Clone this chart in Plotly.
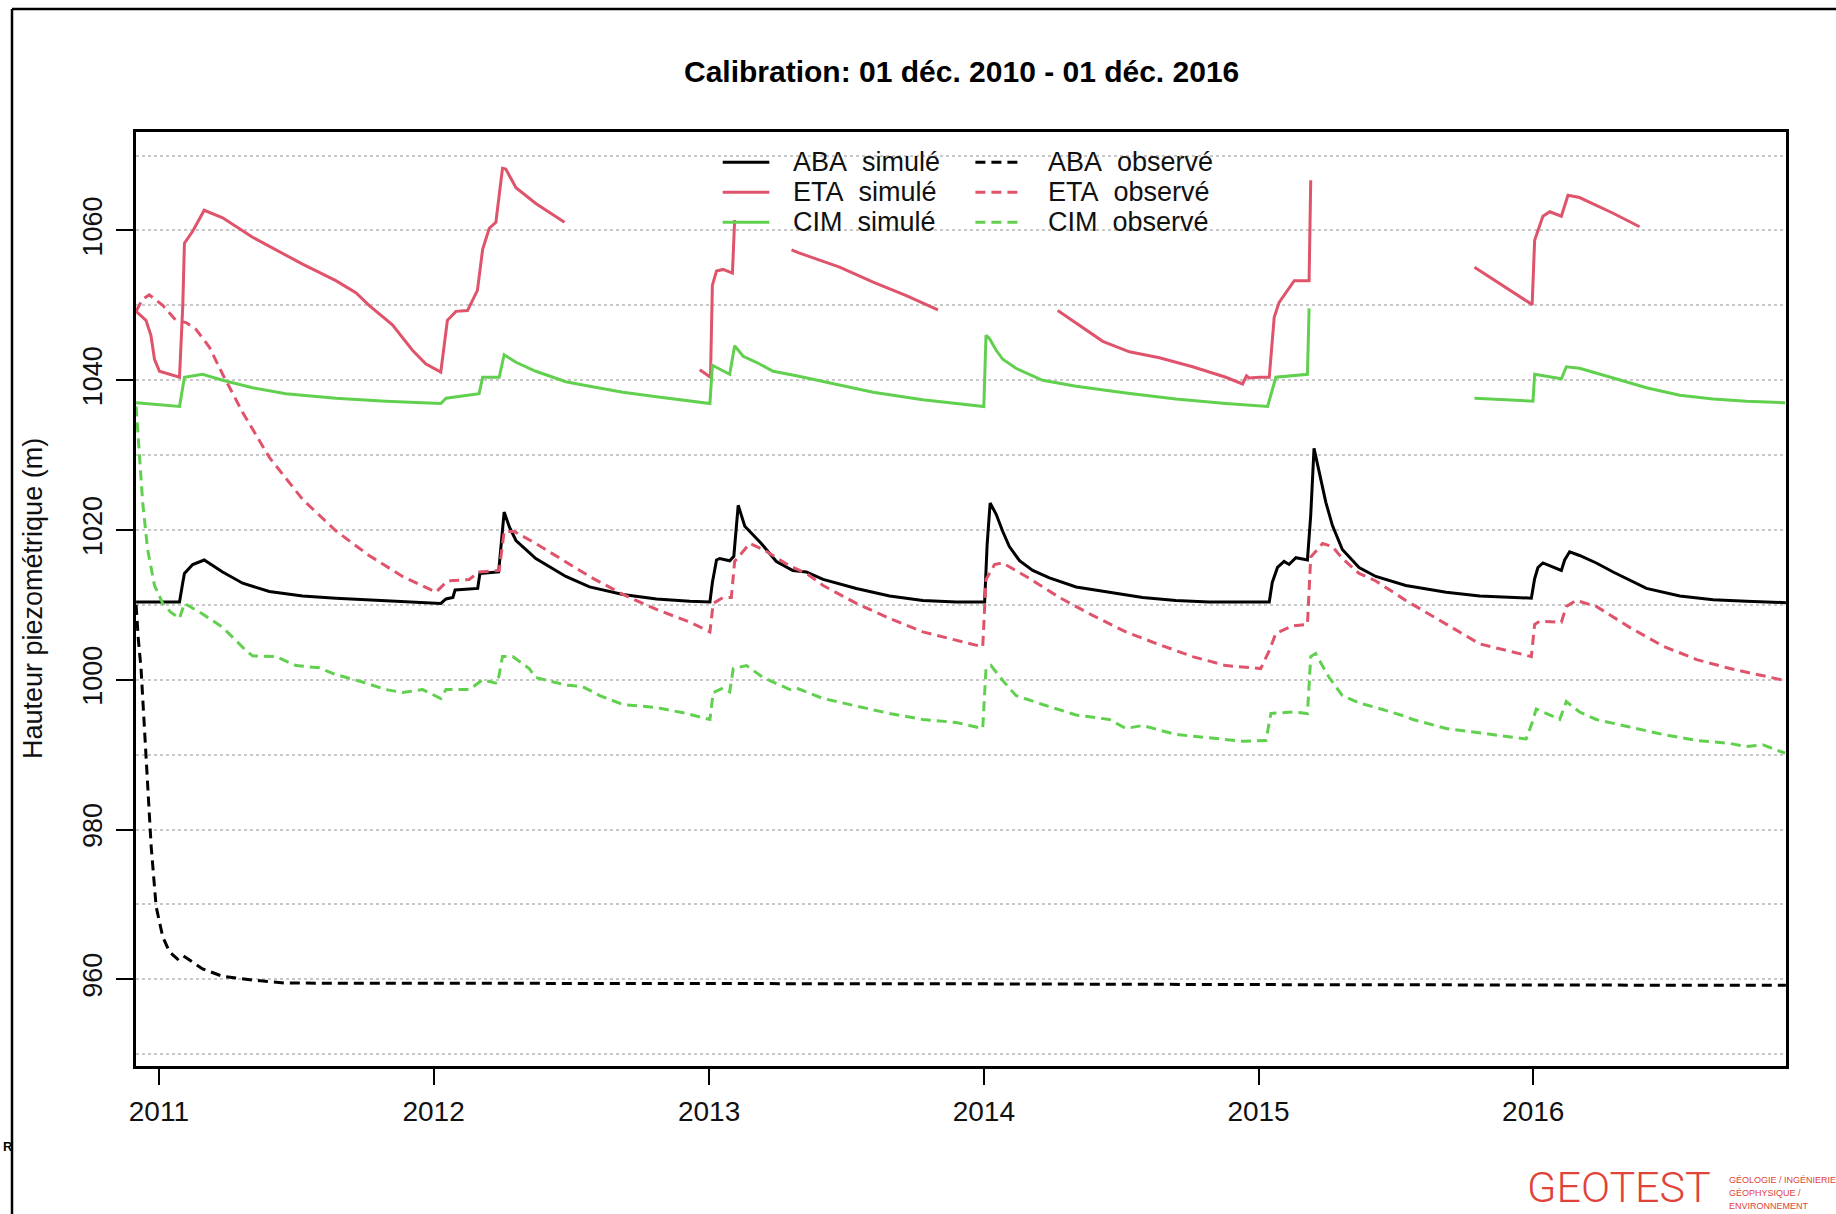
import math
import datetime as dt
import plotly.graph_objects as go

# ---------------- data (decimal years, metres) ----------------
aba_sim_t = [2010.917, 2011.075, 2011.087, 2011.093, 2011.123, 2011.165, 2011.232, 2011.305, 2011.402,
             2011.523, 2011.644, 2011.765, 2011.887, 2012.008, 2012.026, 2012.045, 2012.07, 2012.078,
             2012.16, 2012.168, 2012.236, 2012.256, 2012.275, 2012.299, 2012.371, 2012.48, 2012.566,
             2012.687, 2012.809, 2012.93, 2013.003, 2013.012, 2013.027, 2013.039, 2013.075, 2013.09,
             2013.106, 2013.13, 2013.16, 2013.19, 2013.245, 2013.305, 2013.354, 2013.415, 2013.536,
             2013.657, 2013.778, 2013.9, 2014.003, 2014.012, 2014.023, 2014.045, 2014.069, 2014.093,
             2014.13, 2014.178, 2014.239, 2014.336, 2014.457, 2014.578, 2014.699, 2014.82, 2015.039,
             2015.05, 2015.069, 2015.093, 2015.111, 2015.136, 2015.178, 2015.19, 2015.202, 2015.22,
             2015.245, 2015.269, 2015.305, 2015.366, 2015.427, 2015.536, 2015.683, 2015.805, 2015.993,
             2016.005, 2016.017, 2016.035, 2016.102, 2016.114, 2016.132, 2016.168, 2016.229, 2016.29,
             2016.411, 2016.532, 2016.653, 2016.774, 2016.917]
aba_sim_v = [1010.4, 1010.4, 1013.0, 1014.2, 1015.4, 1016.0, 1014.4, 1012.9, 1011.8,
             1011.2, 1010.9, 1010.7, 1010.5, 1010.3, 1010.2, 1010.8, 1011.0, 1012.0,
             1012.2, 1014.2, 1014.4, 1022.4, 1020.4, 1018.6, 1016.2, 1013.8, 1012.4,
             1011.4, 1010.8, 1010.5, 1010.4, 1013.0, 1016.0, 1016.2, 1015.9, 1016.5,
             1023.3, 1020.5, 1019.4, 1018.2, 1015.8, 1014.6, 1014.4, 1013.4, 1012.2,
             1011.2, 1010.6, 1010.4, 1010.4, 1018.0, 1023.6, 1022.1, 1019.8, 1017.8,
             1015.9, 1014.6, 1013.6, 1012.4, 1011.7, 1011.0, 1010.6, 1010.4, 1010.4,
             1013.0, 1015.0, 1015.8, 1015.4, 1016.3, 1016.0, 1022.0, 1030.9, 1027.7,
             1023.7, 1020.6, 1017.4, 1015.0, 1013.8, 1012.6, 1011.7, 1011.2, 1010.9,
             1013.5, 1015.0, 1015.6, 1014.6, 1016.0, 1017.1, 1016.6, 1015.6, 1014.4,
             1012.2, 1011.2, 1010.7, 1010.5, 1010.3]

aba_obs_t = [2010.917, 2010.925, 2010.935, 2010.947, 2010.959, 2010.972, 2010.99, 2011.014, 2011.038,
             2011.068, 2011.087, 2011.111, 2011.159, 2011.232, 2011.341, 2011.462, 2012.0, 2013.0,
             2014.0, 2015.0, 2016.0, 2016.917]
aba_obs_v = [1010.0, 1005.5, 1001.5, 993.6, 985.6, 977.7, 969.7, 965.7, 963.7,
             962.7, 963.2, 962.6, 961.4, 960.4, 959.9, 959.5, 959.5, 959.5,
             959.4, 959.3, 959.3, 959.2]

eta_sim_t = [2010.917, 2010.953, 2010.971, 2010.984, 2011.002, 2011.038, 2011.075, 2011.087, 2011.093,
             2011.123, 2011.165, 2011.232, 2011.341, 2011.523, 2011.644, 2011.717, 2011.765, 2011.85,
             2011.923, 2011.971, 2012.026, 2012.05, 2012.081, 2012.123, 2012.159, 2012.178, 2012.202,
             2012.226, 2012.25, 2012.262, 2012.299, 2012.371, 2012.475, 2012.7,
             2012.966, 2013.005, 2013.012, 2013.027, 2013.051, 2013.085, 2013.093, 2013.2,
             2013.3, 2013.327, 2013.475, 2013.597, 2013.718, 2013.833, 2014.0,
             2014.269, 2014.336, 2014.433, 2014.53, 2014.639, 2014.76, 2014.881, 2014.942, 2014.956,
             2014.966, 2015.002, 2015.039, 2015.057, 2015.075, 2015.1, 2015.13, 2015.184, 2015.19, 2015.5,
             2015.786, 2015.996, 2016.005, 2016.035, 2016.06, 2016.102, 2016.126, 2016.168, 2016.29,
             2016.386]
eta_sim_v = [1049.2, 1048.0, 1046.0, 1042.8, 1041.2, 1040.8, 1040.4, 1050.0, 1058.3,
             1059.9, 1062.7, 1061.7, 1059.1, 1055.5, 1053.3, 1051.7, 1050.0, 1047.4,
             1044.0, 1042.2, 1041.1, 1048.0, 1049.2, 1049.3, 1052.0, 1057.5, 1060.3,
             1061.1, 1068.3, 1068.2, 1065.7, 1063.6, 1061.1, None,
             1041.4, 1040.4, 1052.7, 1054.6, 1054.8, 1054.3, 1061.4, None,
             1057.4, 1057.0, 1055.1, 1053.1, 1051.3, 1049.4, None,
             1049.3, 1047.6, 1045.2, 1043.8, 1043.0, 1041.8, 1040.4, 1039.5, 1040.6,
             1040.3, 1040.4, 1040.4, 1048.4, 1050.4, 1051.7, 1053.3, 1053.3, 1066.7, None,
             1055.1, 1050.1, 1058.7, 1061.9, 1062.5, 1061.9, 1064.7, 1064.4, 1062.3,
             1060.5]

eta_obs_t = [2010.917, 2010.94, 2010.965, 2011.014, 2011.062, 2011.099, 2011.135, 2011.184, 2011.232,
             2011.305, 2011.402, 2011.523, 2011.644, 2011.765, 2011.887, 2012.008, 2012.05, 2012.129,
             2012.165, 2012.238, 2012.256, 2012.293, 2012.371, 2012.48, 2012.566, 2012.687, 2012.809,
             2012.93, 2013.003, 2013.015, 2013.051, 2013.081, 2013.093, 2013.148, 2013.197, 2013.294,
             2013.354, 2013.415, 2013.536, 2013.657, 2013.778, 2013.996, 2014.008, 2014.039, 2014.069,
             2014.154, 2014.275, 2014.396, 2014.517, 2014.639, 2014.76, 2014.881, 2015.008, 2015.039,
             2015.063, 2015.124, 2015.178, 2015.19, 2015.233, 2015.269, 2015.305, 2015.366, 2015.427,
             2015.536, 2015.683, 2015.805, 2015.993, 2016.005, 2016.023, 2016.102, 2016.12, 2016.156,
             2016.229, 2016.35, 2016.471, 2016.593, 2016.714, 2016.914]
eta_obs_v = [1049.2, 1050.8, 1051.4, 1050.0, 1048.0, 1047.7, 1046.8, 1044.4, 1040.8,
             1035.7, 1029.7, 1024.1, 1019.9, 1016.6, 1013.8, 1011.7, 1013.2, 1013.4,
             1014.4, 1014.6, 1019.8, 1019.8, 1018.2, 1015.8, 1013.8, 1011.4, 1009.4,
             1007.7, 1006.4, 1010.2, 1011.0, 1011.0, 1015.8, 1018.2, 1017.4, 1015.2,
             1014.2, 1012.6, 1010.2, 1008.2, 1006.4, 1004.4, 1013.4, 1015.4, 1015.6,
             1013.8, 1011.0, 1008.6, 1006.4, 1004.7, 1003.1, 1001.9, 1001.5, 1003.9,
             1006.2, 1007.2, 1007.4, 1016.4, 1018.2, 1017.8, 1016.2, 1014.2, 1013.2,
             1010.6, 1007.4, 1004.8, 1003.1, 1007.4, 1007.8, 1007.7, 1009.8, 1010.6,
             1009.8, 1007.0, 1004.5, 1002.7, 1001.5, 999.9]

cim_sim_t = [2010.917, 2011.075, 2011.093, 2011.159, 2011.232, 2011.341, 2011.462, 2011.644, 2011.826,
             2012.026, 2012.045, 2012.165, 2012.178, 2012.238, 2012.256, 2012.299, 2012.371, 2012.48,
             2012.566, 2012.687, 2012.809, 2013.003, 2013.012, 2013.075, 2013.093, 2013.124, 2013.172,
             2013.233, 2013.318, 2013.415, 2013.597, 2013.778, 2014.0, 2014.008, 2014.02, 2014.045,
             2014.069, 2014.117, 2014.214, 2014.336, 2014.517, 2014.699, 2014.881, 2015.033, 2015.063,
             2015.178, 2015.184, 2015.5,
             2015.786, 2015.999, 2016.005, 2016.102, 2016.12, 2016.168, 2016.29, 2016.411, 2016.532,
             2016.653, 2016.774, 2016.914]
cim_sim_v = [1037.0, 1036.5, 1040.4, 1040.8, 1040.0, 1039.0, 1038.2, 1037.6, 1037.2,
             1036.9, 1037.6, 1038.2, 1040.4, 1040.4, 1043.4, 1042.4, 1041.2, 1039.8,
             1039.2, 1038.4, 1037.8, 1036.9, 1042.0, 1040.8, 1044.6, 1043.2, 1042.4,
             1041.2, 1040.6, 1039.8, 1038.4, 1037.4, 1036.5, 1046.0, 1045.6, 1044.0,
             1042.8, 1041.6, 1040.0, 1039.2, 1038.3, 1037.5, 1036.9, 1036.5, 1040.4,
             1040.8, 1049.6, None,
             1037.6, 1037.2, 1040.8, 1040.2, 1041.8, 1041.6, 1040.3, 1039.0, 1038.0,
             1037.5, 1037.2, 1037.0]

cim_obs_t = [2010.917, 2010.929, 2010.941, 2010.959, 2010.984, 2011.014, 2011.044, 2011.075, 2011.093,
             2011.159, 2011.232, 2011.317, 2011.341, 2011.426, 2011.499, 2011.584, 2011.644, 2011.741,
             2011.826, 2011.887, 2011.96, 2012.026, 2012.045, 2012.129, 2012.178, 2012.232, 2012.25,
             2012.287, 2012.347, 2012.371, 2012.48, 2012.54, 2012.603, 2012.687, 2012.809, 2012.918,
             2013.003, 2013.015, 2013.051, 2013.075, 2013.088, 2013.136, 2013.197, 2013.294, 2013.318,
             2013.415, 2013.536, 2013.657, 2013.778, 2013.9, 2013.996, 2014.008, 2014.026, 2014.069,
             2014.117, 2014.214, 2014.336, 2014.457, 2014.517, 2014.578, 2014.699, 2014.82, 2014.942,
             2015.027, 2015.045, 2015.124, 2015.178, 2015.19, 2015.208, 2015.257, 2015.305, 2015.366,
             2015.427, 2015.536, 2015.562, 2015.683, 2015.805, 2015.974, 2015.996, 2016.011, 2016.096,
             2016.12, 2016.168, 2016.229, 2016.35, 2016.471, 2016.593, 2016.714, 2016.774, 2016.835,
             2016.914]
cim_obs_v = [1036.5, 1029.3, 1023.7, 1017.4, 1012.6, 1010.2, 1009.0, 1008.2, 1010.2,
             1008.8, 1007.0, 1003.9, 1003.2, 1003.1, 1001.9, 1001.6, 1000.7, 999.7,
             998.7, 998.3, 998.7, 997.5, 998.7, 998.7, 1000.0, 999.5, 1003.1,
             1003.1, 1001.5, 1000.3, 999.3, 999.1, 997.9, 996.7, 996.3, 995.5,
             994.7, 998.3, 998.9, 998.4, 1001.5, 1001.9, 1000.3, 998.7, 998.9,
             997.5, 996.5, 995.5, 994.7, 994.3, 993.5, 1001.5, 1001.9, 999.9,
             997.9, 996.7, 995.3, 994.7, 993.5, 993.9, 992.7, 992.3, 991.8,
             991.9, 995.5, 995.7, 995.5, 1003.1, 1003.5, 1000.3, 997.9, 996.9,
             996.3, 995.1, 994.7, 993.5, 992.9, 992.1, 994.3, 996.1, 994.7,
             997.1, 995.7, 994.7, 993.7, 992.7, 991.9, 991.5, 991.1, 991.3,
             990.2]

series_names = ["ABA  simulé", "ETA  simulé", "CIM  simulé", "ABA  observé", "ETA  observé", "CIM  observé"]
colors = {"ABA": "#000000", "ETA": "#DF536B", "CIM": "#61D04F"}
year_ticks = [2011, 2012, 2013, 2014, 2015, 2016]
y_tick_vals = [960, 980, 1000, 1020, 1040, 1060]


def to_date(y):
    yr = int(math.floor(y))
    start = dt.datetime(yr, 1, 1)
    days = (dt.datetime(yr + 1, 1, 1) - start).days
    return start + dt.timedelta(days=(y - yr) * days)


# ---------------- layout geometry (pixels) ----------------
W, H = 1836, 1214
PL, PR, PT, PB = 136, 1786, 132, 1066
PW, PH = PR - PL, PB - PT


def px(x):
    return (x - PL) / PW


def py(y):
    return (PB - y) / PH


FONT = "Liberation Sans, Arial, sans-serif"
DASH = "10px,6px"

fig = go.Figure()
traces = [
    (aba_sim_t, aba_sim_v, "ABA", "solid"),
    (eta_sim_t, eta_sim_v, "ETA", "solid"),
    (cim_sim_t, cim_sim_v, "CIM", "solid"),
    (aba_obs_t, aba_obs_v, "ABA", DASH),
    (eta_obs_t, eta_obs_v, "ETA", DASH),
    (cim_obs_t, cim_obs_v, "CIM", DASH),
]
for (t, v, key, dash), name in zip(traces, series_names):
    fig.add_trace(go.Scatter(
        x=[to_date(a) for a in t], y=v, mode="lines", name=name,
        line=dict(color=colors[key], width=3, dash=dash),
        connectgaps=False, showlegend=False, hoverinfo="skip"))

grid = dict(showgrid=True, gridcolor="#C8C8C8", griddash="dot", gridwidth=1.5)

fig.update_layout(
    width=W, height=H,
    margin=dict(l=PL, r=W - PR, t=PT, b=H - PB, pad=0),
    paper_bgcolor="white", plot_bgcolor="white",
    font=dict(family=FONT, color="black"),
    xaxis=dict(
        type="date",
        range=[to_date(2010 + 11 / 12), to_date(2016 + 11 / 12 + 0.0008)],
        tickvals=[dt.datetime(y, 1, 1) for y in year_ticks],
        ticktext=[str(y) for y in year_ticks],
        ticks="outside", ticklen=16, tickwidth=1.5, tickcolor="black",
        tickfont=dict(size=28, family=FONT, color="#111"),
        ticklabelstandoff=2,
        showgrid=False, zeroline=False,
        showline=True, linecolor="black", linewidth=3, mirror=True,
    ),
    yaxis=dict(
        range=[948.43, 1073.15],
        tickvals=y_tick_vals,
        ticktext=[str(v) for v in y_tick_vals],
        tickangle=-90,
        ticks="outside", ticklen=17, tickwidth=1.5, tickcolor="black",
        tickfont=dict(size=27, family=FONT, color="#111"),
        ticklabelstandoff=3,
        zeroline=False,
        showline=True, linecolor="black", linewidth=3, mirror=True,
        minor=dict(dtick=10, tick0=950, ticks="", **grid),
        **grid,
    ),
)

annotations = [
    dict(text="<b>Calibration: 01 déc. 2010 - 01 déc. 2016</b>", x=0.5, y=py(72),
         xref="paper", yref="paper", xanchor="center", yanchor="middle", showarrow=False,
         font=dict(size=30, family=FONT, color="black")),
    dict(text="Hauteur piezométrique (m)", x=px(33), y=0.5, textangle=-90,
         xref="paper", yref="paper", xanchor="center", yanchor="middle", showarrow=False,
         font=dict(size=27, family=FONT, color="#111")),
    dict(text="<b>R</b>", x=px(1), y=py(1146), xref="paper", yref="paper",
         xanchor="left", yanchor="middle", showarrow=False,
         font=dict(size=13, family=FONT, color="black")),
    dict(text="GEOTEST", x=px(1619), y=py(1187), xref="paper", yref="paper",
         xanchor="center", yanchor="middle", showarrow=False,
         font=dict(size=43, family="Liberation Sans Narrow, Roboto, sans-serif", color="#E0433A",
                   weight=300)),
]
for i, line in enumerate(["GÉOLOGIE / INGÉNIERIE", "GÉOPHYSIQUE /", "ENVIRONNEMENT"]):
    annotations.append(dict(text=line, x=px(1727), y=py(1180 + 13 * i), xref="paper", yref="paper",
                            xanchor="left", yanchor="middle", showarrow=False,
                            font=dict(size=9, family=FONT, color="#E0433A")))

# legend (two columns, three rows) drawn as lines + text
shapes = []
rows_y = [162.3, 192.3, 222.3]
col_line = [(722.7, 769.3), (975.4, 1022.3)]
col_text = [791, 1045.7]
keys = ["ABA", "ETA", "CIM"]
for c in range(2):
    for r in range(3):
        name = series_names[c * 3 + r]
        shapes.append(dict(type="line", xref="paper", yref="paper",
                           x0=px(col_line[c][0]), x1=px(col_line[c][1]),
                           y0=py(rows_y[r]), y1=py(rows_y[r]),
                           line=dict(color=colors[keys[r]], width=3,
                                     dash="solid" if c == 0 else DASH)))
        annotations.append(dict(text=name.replace("  ", "\u00a0 "), x=px(col_text[c]), y=py(rows_y[r]),
                                xref="paper", yref="paper", xanchor="left", yanchor="middle",
                                showarrow=False, font=dict(size=27, family=FONT, color="#111")))

# outer frame of the page (top and left edges)
shapes.append(dict(type="line", xref="paper", yref="paper", x0=px(12), x1=px(W + 5), y0=py(9), y1=py(9),
                   line=dict(color="black", width=2.5)))
shapes.append(dict(type="line", xref="paper", yref="paper", x0=px(12), x1=px(12), y0=py(9), y1=py(H + 5),
                   line=dict(color="black", width=2.5)))

fig.update_layout(annotations=annotations, shapes=shapes)
fig.write_html("out.html")
